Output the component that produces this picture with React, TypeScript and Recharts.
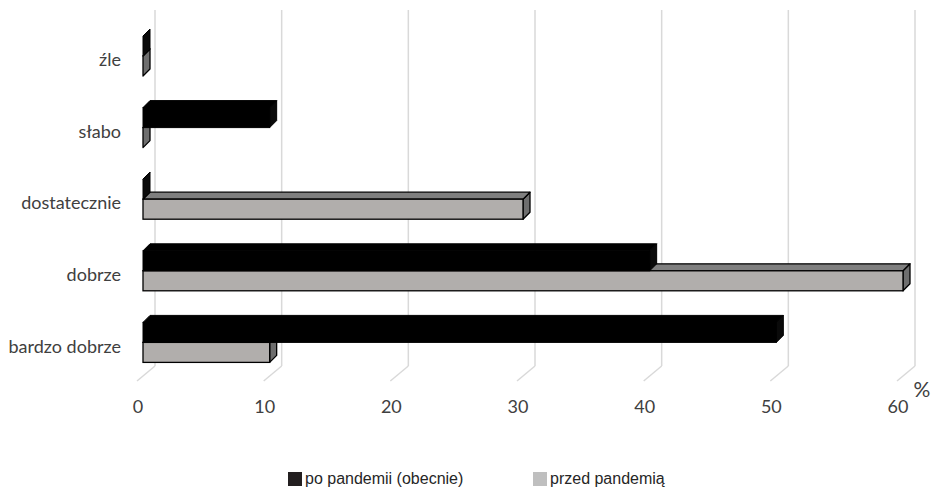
import { BarChart, Bar, XAxis, YAxis, CartesianGrid, Legend } from 'recharts'

const categories = ['źle', 'słabo', 'dostatecznie', 'dobrze', 'bardzo dobrze']
const poPandemii = [0, 10, 0, 40, 50]
const przedPandemia = [0, 0, 30, 60, 10]
const xTicks = [0, 10, 20, 30, 40, 50, 60]

const seriesNames = { po: 'po pandemii (obecnie)', przed: 'przed pandemią' }

const data = categories.map((label, i) => ({
  label,
  po: poPandemii[i],
  przed: przedPandemia[i],
}))

const DEPTH = 7

// 3D box: front face + top face + right side face
function makeBox(front: string, top: string, side: string, stroke: string, sw: number) {
  return (props: any) => {
    const { x, y, width, height } = props
    const w = Math.max(0, width || 0)
    const d = DEPTH
    const topPts = `${x},${y} ${x + d},${y - d} ${x + w + d},${y - d} ${x + w},${y}`
    const sidePts = `${x + w},${y} ${x + w + d},${y - d} ${x + w + d},${y + height - d} ${x + w},${y + height}`
    return (
      <g>
        <polygon points={sidePts} fill={side} stroke={stroke} strokeWidth={sw} strokeLinejoin="round" />
        <polygon points={topPts} fill={top} stroke={stroke} strokeWidth={sw} strokeLinejoin="round" />
        <rect x={x} y={y} width={w} height={height} fill={front} stroke={stroke} strokeWidth={sw} />
      </g>
    )
  }
}

const BlackBox = makeBox('#000000', '#000000', '#0a0a0a', '#000000', 1)
const GrayBox = makeBox('#b1aeac', '#7f7f7f', '#6e6e6e', '#000000', 1.3)

function GridLine(props: any) {
  const { x1, y1, y2 } = props
  const bx = x1 + 12
  return (
    <g>
      <line x1={bx} y1={y1 - 10} x2={bx} y2={y2 - 12} stroke="#d9d9d9" strokeWidth={1.5} />
      <line x1={bx} y1={y2 - 12} x2={bx - 18} y2={y2 + 3} stroke="#d9d9d9" strokeWidth={1.5} />
    </g>
  )
}

function CategoryTick(props: any) {
  const { y, payload } = props
  return (
    <text x={121} y={y + 4} dy="0.35em" textAnchor="end" fill="#404040" fontSize={18} fontFamily="Lato, sans-serif">
      {payload.value}
    </text>
  )
}

function ValueTick(props: any) {
  const { x, payload } = props
  return (
    <text x={x - 5} y={413} textAnchor="middle" fill="#404040" fontSize={18} fontFamily="Lato, sans-serif">
      {payload.value}
    </text>
  )
}

function LegendContent() {
  const item = (left: number, color: string, text: string) => (
    <div style={{ position: 'absolute', left, top: 0, display: 'flex', alignItems: 'center' }}>
      <span style={{ width: 14, height: 14, background: color, display: 'inline-block', marginRight: 3 }} />
      <span style={{ fontFamily: '"Liberation Sans", Arial, sans-serif', fontSize: 16, color: '#262626', lineHeight: '16px' }}>
        {text}
      </span>
    </div>
  )
  return (
    <div style={{ position: 'relative', width: 934, height: 16 }}>
      {item(288, '#231f20', seriesNames.po)}
      {item(533, '#bfbfbf', seriesNames.przed)}
    </div>
  )
}

export default function App() {
  return (
    <div style={{ position: 'absolute', left: 0, top: 0, width: 934, height: 487, background: '#fff' }}>
      <BarChart
        width={934}
        height={487}
        data={data}
        layout="vertical"
        margin={{ top: 20, right: 31, left: 0, bottom: 0 }}
        barSize={20}
        barGap={-40}
      >
        <CartesianGrid horizontal={false} vertical={(p: any) => <GridLine key={p.key ?? p.x1} {...p} />} />
        <XAxis
          type="number"
          domain={[0, 60]}
          ticks={xTicks}
          height={109}
          axisLine={false}
          tickLine={false}
          tick={<ValueTick />}
          interval={0}
          label={() => (
            <text x={922} y={397} textAnchor="middle" fill="#404040" fontSize={21} fontFamily="Lato, sans-serif">
              %
            </text>
          )}
        />
        <YAxis
          type="category"
          dataKey="label"
          width={143}
          axisLine={false}
          tickLine={false}
          tick={<CategoryTick />}
          interval={0}
        />
        {/* gray first so black is painted on top; negative barGap keeps black above */}
        <Bar dataKey="przed" name={seriesNames.przed} fill="#b1aeac" shape={GrayBox} isAnimationActive={false} />
        <Bar dataKey="po" name={seriesNames.po} fill="#000000" shape={BlackBox} isAnimationActive={false} />
        <Legend
          layout="horizontal"
          verticalAlign="middle"
          content={<LegendContent />}
          wrapperStyle={{ top: 471, left: 0, width: 934 }}
        />
      </BarChart>
    </div>
  )
}
